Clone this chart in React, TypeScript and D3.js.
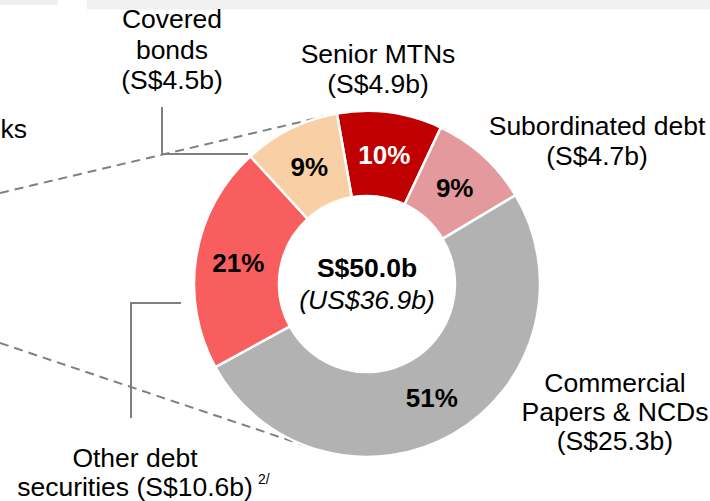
import React, { useEffect, useRef } from 'react';
import * as d3 from 'd3';

// slices, clockwise starting at the top
const categories = ['Senior MTNs', 'Subordinated debt', 'Commercial Papers & NCDs', 'Other debt securities', 'Covered bonds'];
const amounts = [4.9, 4.7, 25.3, 10.6, 4.5]; // S$ billions
const colors = ['#C00000', '#E4999D', '#B2B2B2', '#F95E5E', '#F9CFA5'];
const labelInk = ['#ffffff', '#000000', '#000000', '#000000', '#000000'];
const totalUsd = 36.9;

const W = 710;
const H = 501;
const FONT = "Arial, 'Liberation Sans', sans-serif";

const App = () => {
    const svgRef = useRef<SVGSVGElement | null>(null);

    useEffect(() => {
        const cx = 367;
        const cy = 284;
        const outerR = 173;
        const innerR = 88;
        const fs = 26.5;
        const fsBold = 26;

        const svg = d3.select(svgRef.current);
        svg.selectAll('*').remove();
        svg.attr('width', W).attr('height', H);

        // light grey strips left over from the slide above
        svg.append('rect').attr('x', 0).attr('y', 0).attr('width', 58).attr('height', 5).attr('fill', '#F0F0F0');
        svg.append('rect').attr('x', 87).attr('y', 0).attr('width', 623).attr('height', 9.5).attr('fill', '#F0F0F0');

        // tail of the label from the chart on the left
        svg.append('text')
            .attr('x', 0.5).attr('y', 138)
            .style('font-family', FONT).style('font-size', `${fs}px`)
            .text('ks');

        const total = d3.sum(amounts);
        const rad = (deg: number) => (deg * Math.PI) / 180;

        const pie = d3.pie<number>()
            .sort(null)
            .value(d => d)
            .startAngle(rad(-10))
            .endAngle(rad(350));
        const arcs = pie(amounts);

        const arc = d3.arc<d3.PieArcDatum<number>>()
            .innerRadius(innerR)
            .outerRadius(outerR);

        const onRim = (deg: number): [number, number] => [
            cx + outerR * Math.sin(rad(deg)),
            cy - outerR * Math.cos(rad(deg)),
        ];

        // dashed callout lines from the left chart
        const dash = svg.append('g')
            .attr('stroke', '#808080')
            .attr('stroke-width', 2)
            .attr('stroke-dasharray', '9,6')
            .attr('fill', 'none');
        const top = onRim(347);
        const bottom = onRim(200.7);
        dash.append('line').attr('x1', 0).attr('y1', 193).attr('x2', top[0]).attr('y2', top[1]);
        dash.append('line').attr('x1', 0).attr('y1', 343).attr('x2', bottom[0]).attr('y2', bottom[1]);

        const g = svg.append('g').attr('transform', `translate(${cx}, ${cy})`);

        g.selectAll('path.slice')
            .data(arcs)
            .join('path')
            .attr('class', 'slice')
            .attr('d', arc)
            .attr('fill', (d, i) => colors[i])
            .attr('stroke', '#ffffff')
            .attr('stroke-width', 2.5)
            .attr('stroke-linejoin', 'round');

        g.selectAll('text.pct')
            .data(arcs)
            .join('text')
            .attr('class', 'pct')
            .attr('transform', d => `translate(${arc.centroid(d)})`)
            .attr('text-anchor', 'middle')
            .attr('dy', '0.36em')
            .style('font-family', FONT)
            .style('font-size', `${fsBold}px`)
            .style('font-weight', 'bold')
            .style('fill', (d, i) => labelInk[i])
            .text(d => `${Math.round((d.data / total) * 100)}%`);

        // centre total
        g.append('text')
            .attr('y', -7)
            .attr('text-anchor', 'middle')
            .style('font-family', FONT).style('font-size', `${fs}px`).style('font-weight', 'bold')
            .text(`S$${total.toFixed(1)}b`);
        g.append('text')
            .attr('y', 25)
            .attr('text-anchor', 'middle')
            .style('font-family', FONT).style('font-size', `${fs}px`).style('font-style', 'italic')
            .text(`(US$${totalUsd.toFixed(1)}b)`);

        // outside labels
        const amt = (i: number) => `(S$${amounts[i].toFixed(1)}b)`;
        const outside = [
            { x: 378, y: 63, gap: 30, lines: ['Senior MTNs', amt(0)] },
            { x: 597, y: 135, gap: 30, lines: ['Subordinated debt', amt(1)] },
            { x: 615, y: 392, gap: 29, lines: ['Commercial', 'Papers & NCDs', amt(2)] },
            { x: 135, y: 467, gap: 28.5, lines: ['Other debt', `securities ${amt(3)}`] },
            { x: 172, y: 28, gap: 30.5, lines: ['Covered', 'bonds', amt(4)] },
        ];
        outside.forEach(lb => {
            const t = svg.append('text')
                .attr('text-anchor', 'middle')
                .style('font-family', FONT)
                .style('font-size', `${fs}px`)
                .style('fill', '#000');
            lb.lines.forEach((line, k) => {
                t.append('tspan').attr('x', lb.x).attr('y', lb.y + k * lb.gap).text(line);
            });
        });

        // footnote marker
        svg.append('text')
            .attr('x', 258).attr('y', 484)
            .style('font-family', FONT).style('font-size', '14px')
            .text('2/');

        // leader lines
        const lead = svg.append('g').attr('stroke', '#808080').attr('stroke-width', 2).attr('fill', 'none');
        lead.append('path').attr('d', 'M162,107 V154 H248');
        lead.append('path').attr('d', 'M131,418 V303 H181');
    }, []);

    return (
        <div style={{ position: 'absolute', left: 0, top: 0, width: W, height: H, background: '#fff' }}>
            <svg ref={svgRef} style={{ display: 'block' }}></svg>
        </div>
    );
};

export default App;
